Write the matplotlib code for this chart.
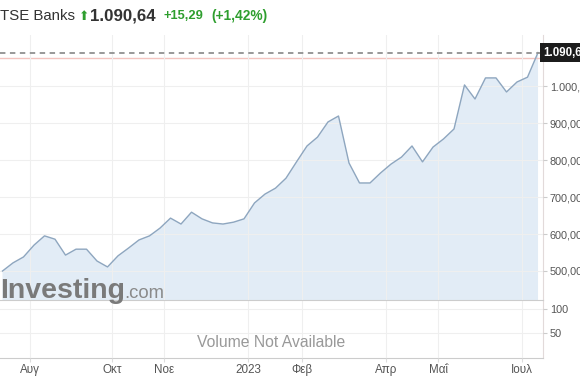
import matplotlib
matplotlib.use("Agg")
import matplotlib.pyplot as plt
import matplotlib.transforms as mtransforms

plt.rcParams['font.family'] = ['Liberation Sans', 'DejaVu Sans']

# weekly closes (index = week number)
prices = [500, 522, 538, 570, 595, 586, 543, 559, 559, 527, 511, 541, 562, 584,
          595, 616, 643, 627, 659, 641, 630, 627, 632, 641, 684, 708, 724, 751,
          795, 838, 862, 903, 919, 792, 738, 738, 765, 789, 808, 838, 795, 835,
          857, 884, 1003, 965, 1022, 1022, 984, 1011, 1024, 1090.64]
last_price = 1090.64
prev_close = 1075.35
change = "+15,29"
change_pct = "(+1,42%)"

month_pos = [2.6, 10.43, 15.38, 23.38, 28.5, 36.5, 41.5, 49.5]
month_labels = ["Αυγ", "Οκτ", "Νοε", "2023", "Φεβ", "Απρ", "Μαΐ", "Ιουλ"]
price_ticks = [500, 600, 700, 800, 900, 1000]
vol_ticks = [50, 100]

W, H = 580, 391
fig = plt.figure(figsize=(W / 100, H / 100), dpi=100)
fig.patch.set_facecolor('white')

ax = fig.add_axes([0, 1 - 300 / H, 543 / W, (300 - 35) / H])
axv = fig.add_axes([0, 1 - 358 / H, 543 / W, 58 / H])
ax.set_zorder(3)  # keep the watermark's descender above the volume pane

x = list(range(len(prices)))
xlim = (-0.238, 51.476)

ax.fill_between(x, prices, 0, color='#e2ecf6', zorder=1, lw=0)
ax.plot(x, prices, color='#8ea6bf', lw=1.0, zorder=3)
ax.axhline(prev_close, color='#f2c4c0', lw=1.0, zorder=2)
ax.axhline(last_price, color='#909090', lw=1.3, ls=(0, (3, 2.5)), zorder=4)
ax.set_xlim(xlim)
ax.set_ylim(421.6, 1138)

for a in (ax, axv):
    a.set_xticks(month_pos)
    a.grid(True, color='#efefef', lw=0.8)
    a.set_axisbelow(False)
    for s in ('left', 'top'):
        a.spines[s].set_visible(False)
    a.spines['right'].set_color('#e2dada')
    a.spines['bottom'].set_color('#cccccc')
    a.yaxis.tick_right()
    a.tick_params(axis='y', direction='out', length=3, color='#cccccc',
                  labelsize=7.8, labelcolor='#555555', pad=2)
    a.tick_params(axis='x', direction='out', length=3, color='#dddddd')

ax.set_yticks(price_ticks)
ax.set_yticklabels([f"{v:,.2f}".replace(",", "X").replace(".", ",").replace("X", ".")
                    for v in price_ticks])
ax.tick_params(axis='x', labelbottom=False, length=0)

axv.set_xlim(xlim)
axv.set_ylim(-4, 120)
axv.set_yticks(vol_ticks)
axv.set_yticklabels([str(v) for v in vol_ticks])
axv.set_xticklabels(month_labels)
axv.tick_params(axis='x', labelsize=8.4, labelcolor='#555555', pad=1.5)
axv.text(0.5, 0.26, "Volume Not Available", transform=axv.transAxes,
         ha='center', va='center', fontsize=11.3, color='#999999')

# last price tag
tr = mtransforms.blended_transform_factory(ax.transAxes, ax.transData)
ax.text(1.0, last_price, "1.090,64", transform=tr, ha='left', va='center',
        fontsize=8.3, fontweight='bold', color='white', clip_on=False,
        bbox=dict(boxstyle='square,pad=0.28', fc='#1c1c1c', ec='none'), zorder=6)

# watermark
ax.text(0.0, 0.006, "Investing", transform=ax.transAxes, ha='left', va='baseline',
        fontsize=20.5, fontweight='bold', color='#7a7a7a', zorder=5, clip_on=False)
ax.text(0.229, 0.006, ".com", transform=ax.transAxes, ha='left', va='baseline',
        fontsize=13.3, color='#8a8a8a', zorder=5, clip_on=False)

# header
fig.text(0 / W, 1 - 16 / H, "TSE Banks", ha='left', va='center',
         fontsize=10.8, color='#333333')
fig.text(79 / W, 1 - 16.5 / H, "⬆", ha='left', va='center',
         fontsize=9, color='#2e9e2e', family=['DejaVu Sans'])
fig.text(90 / W, 1 - 16 / H, "1.090,64", ha='left', va='center',
         fontsize=12.2, fontweight='bold', color='#333333')
fig.text(163 / W, 1 - 16 / H, change, ha='left', va='center',
         fontsize=9.3, fontweight='bold', color='#2e9e2e')
fig.text(211 / W, 1 - 16 / H, change_pct, ha='left', va='center',
         fontsize=9.9, fontweight='bold', color='#2e9e2e')

fig.savefig("out.png", dpi=100)
